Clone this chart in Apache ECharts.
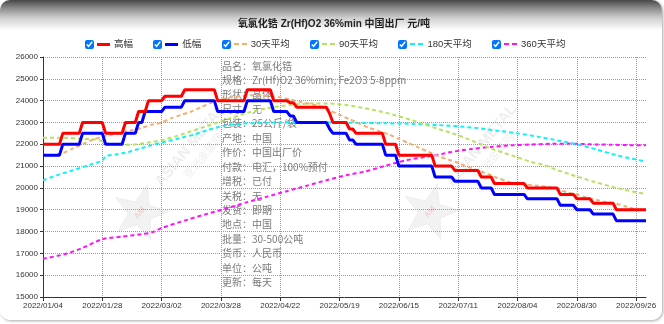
<!DOCTYPE html>
<html>
<head>
<meta charset="utf-8">
<script src="https://cdn.jsdelivr.net/npm/echarts/dist/echarts.min.js"></script>
<style>
html,body{margin:0;padding:0;width:664px;height:324px;overflow:hidden;background:#fff;}
#panel{position:absolute;left:0;top:0;width:662px;height:320px;border-radius:10px;box-shadow:1px 1px 3px rgba(0,0,0,0.35);
  background:linear-gradient(to bottom,#474747 0px,#8a8a8a 8px,#cfcfcf 18px,#ffffff 30px);}
#title{position:absolute;left:0;top:16px;width:668px;text-align:center;font:bold 10px "Liberation Sans","Noto Sans CJK SC",sans-serif;color:#222;line-height:16px;}
#legend{position:absolute;left:85px;top:37px;height:14px;display:flex;align-items:center;gap:20.3px;}
.it{display:flex;align-items:center;font:9.5px "Liberation Sans","Noto Sans CJK SC",sans-serif;color:#333;line-height:14px;cursor:pointer;}
.it input{width:9px;height:9px;margin:0 3px 0 0;}
.ln{display:inline-block;width:13px;height:3px;margin-right:4px;}
.ds{height:2px;}
#chart{position:absolute;left:0;top:0;width:664px;height:324px;}
</style>
</head>
<body>
<div id="panel"></div>
<div id="chart"></div>
<div id="title">氧氯化锆 Zr(Hf)O2 36%min 中国出厂 元/吨</div>
<div id="legend"></div>
<script>
// ---------- data ----------
const categories = [
"2022/01/04","2022/01/05","2022/01/06","2022/01/07","2022/01/10","2022/01/11","2022/01/12","2022/01/13","2022/01/14","2022/01/17","2022/01/18","2022/01/19","2022/01/20","2022/01/21","2022/01/24","2022/01/25","2022/01/26","2022/01/27","2022/01/28",
"2022/02/07","2022/02/08","2022/02/09","2022/02/10","2022/02/11","2022/02/14","2022/02/15","2022/02/16","2022/02/17","2022/02/18","2022/02/21","2022/02/22","2022/02/23","2022/02/24","2022/02/25","2022/02/28",
"2022/03/01","2022/03/02","2022/03/03","2022/03/04","2022/03/07","2022/03/08","2022/03/09","2022/03/10","2022/03/11","2022/03/14","2022/03/15","2022/03/16","2022/03/17","2022/03/18","2022/03/21","2022/03/22","2022/03/23","2022/03/24","2022/03/25","2022/03/28","2022/03/29","2022/03/30","2022/03/31",
"2022/04/01","2022/04/02","2022/04/06","2022/04/07","2022/04/08","2022/04/11","2022/04/12","2022/04/13","2022/04/14","2022/04/15","2022/04/18","2022/04/19","2022/04/20","2022/04/21","2022/04/22","2022/04/24","2022/04/25","2022/04/26","2022/04/27","2022/04/28","2022/04/29",
"2022/05/05","2022/05/06","2022/05/07","2022/05/09","2022/05/10","2022/05/11","2022/05/12","2022/05/13","2022/05/16","2022/05/17","2022/05/18","2022/05/19","2022/05/20","2022/05/23","2022/05/24","2022/05/25","2022/05/26","2022/05/27","2022/05/30","2022/05/31",
"2022/06/01","2022/06/02","2022/06/06","2022/06/07","2022/06/08","2022/06/09","2022/06/10","2022/06/13","2022/06/14","2022/06/15","2022/06/16","2022/06/17","2022/06/20","2022/06/21","2022/06/22","2022/06/23","2022/06/24","2022/06/27","2022/06/28","2022/06/29","2022/06/30",
"2022/07/01","2022/07/04","2022/07/05","2022/07/06","2022/07/07","2022/07/08","2022/07/11","2022/07/12","2022/07/13","2022/07/14","2022/07/15","2022/07/18","2022/07/19","2022/07/20","2022/07/21","2022/07/22","2022/07/25","2022/07/26","2022/07/27","2022/07/28","2022/07/29",
"2022/08/01","2022/08/02","2022/08/03","2022/08/04","2022/08/05","2022/08/08","2022/08/09","2022/08/10","2022/08/11","2022/08/12","2022/08/15","2022/08/16","2022/08/17","2022/08/18","2022/08/19","2022/08/22","2022/08/23","2022/08/24","2022/08/25","2022/08/26","2022/08/29","2022/08/30","2022/08/31",
"2022/09/01","2022/09/02","2022/09/05","2022/09/06","2022/09/07","2022/09/08","2022/09/09","2022/09/13","2022/09/14","2022/09/15","2022/09/16","2022/09/19","2022/09/20","2022/09/21","2022/09/22","2022/09/23","2022/09/26","2022/09/27","2022/09/28","2022/09/29"
];

const highPrice = [
22000,22000,22000,22000,22000,22000,
22500,22500,22500,22500,22500,22500,
23000,23000,23000,23000,23000,23000,23000,
22500,22500,22500,22500,22500,22500,
23000,23000,23000,23000,
23500,23500,23500,
24000,24000,24000,24000,24000,
24200,24200,24200,24200,24200,24200,
24500,24500,24500,24500,24500,24500,24500,24500,24500,24500,
24000,24000,24000,24000,24000,24000,24000,24000,24000,
24500,24500,24500,24500,24500,24500,24500,24500,
24000,24000,24000,24000,24000,
23900,23900,
23700,23700,23700,23700,23700,23700,23700,23700,23700,23700,
23400,
23000,23000,23000,23000,23000,
22700,22700,
22500,22500,22500,22500,22500,22500,22500,22500,22500,
22000,22000,22000,22000,
21500,21500,21500,21500,21500,21500,21500,21500,21500,21500,21500,
21000,21000,21000,21000,21000,21000,
20800,20800,20800,20800,20800,20800,20800,20800,
20500,20500,20500,20500,
20200,20200,20200,20200,20200,20200,20200,20200,20200,20200,
20000,20000,20000,20000,20000,20000,20000,20000,20000,20000,
19700,19700,19700,19700,19700,
19500,19500,19500,19500,19500,
19300,19300,19300,19300,19300,19300,19300,
19000,19000,19000,19000,19000,19000,19000,19000,19000,19000
];

const lowPrice = [
21500,21500,21500,21500,21500,21500,
22000,22000,22000,22000,22000,22000,
22500,22500,22500,22500,22500,22500,22500,
22000,22000,22000,22000,22000,22000,
22500,22500,22500,22500,
23000,23000,
23500,23500,23500,23500,23500,23500,
23700,23700,23700,23700,23700,23700,
24000,24000,24000,24000,24000,24000,24000,24000,24000,24000,
23500,23500,23500,23500,23500,23500,23500,23500,23500,
24000,24000,24000,24000,24000,24000,24000,24000,
23500,23500,23500,23500,23500,
23300,23300,
23000,23000,23000,23000,23000,23000,23000,23000,23000,23000,
22700,
22500,22500,22500,22500,22500,
22200,22200,
22000,22000,22000,22000,22000,22000,22000,22000,22000,
21500,21500,21500,21500,
21000,21000,21000,21000,21000,21000,21000,21000,21000,21000,21000,
20500,20500,20500,20500,20500,20500,
20300,20300,20300,20300,20300,20300,20300,20300,
20000,20000,20000,20000,
19700,19700,19700,19700,19700,19700,19700,19700,19700,19700,
19500,19500,19500,19500,19500,19500,19500,19500,19500,19500,
19200,19200,19200,19200,19200,
19000,19000,19000,19000,19000,
18800,18800,18800,18800,18800,18800,18800,
18500,18500,18500,18500,18500,18500,18500,18500,18500,18500
];

// moving averages: [category index, value]
const avg30 = [[0,21500],[3,21500],[6,21600],[9,21800],[12,22000],[15,22200],[18,22350],[21,22450],[24,22550],[27,22650],[30,22750],[33,22900],[36,23000],[39,23200],[42,23350],[45,23500],[48,23700],[51,23900],[54,24050],[57,24150],[60,24200],[63,24250],[66,24250],[69,24200],[72,24150],[75,24050],[78,23950],[81,23850],[84,23750],[87,23550],[90,23350],[93,23150],[96,22950],[99,22750],[102,22600],[105,22450],[108,22250],[111,22050],[114,21850],[117,21650],[120,21450],[123,21300],[126,21150],[130,20900],[134,20700],[138,20450],[141,20300],[144,20200],[147,20150],[150,20100],[153,20050],[156,19950],[159,19800],[162,19700],[165,19550],[168,19450],[171,19350],[174,19280],[177,19150],[180,19020],[183,19000]];
const avg90 = [[0,22300],[6,22300],[12,22250],[17,22200],[20,22000],[24,21980],[28,21990],[32,22080],[36,22180],[40,22350],[44,22550],[48,22750],[52,22950],[56,23150],[60,23350],[64,23520],[68,23650],[72,23750],[76,23820],[80,23860],[84,23870],[88,23860],[92,23800],[96,23700],[100,23580],[104,23450],[108,23280],[112,23100],[116,22900],[120,22700],[124,22520],[128,22300],[132,22050],[136,21800],[140,21600],[144,21400],[148,21200],[152,21050],[156,20820],[160,20620],[164,20430],[168,20250],[172,20080],[176,19930],[180,19800],[183,19720]];
const avg180 = [[0,20350],[5,20620],[10,20850],[15,21100],[18,21250],[19,21450],[22,21530],[26,21650],[30,21830],[34,22000],[38,22150],[42,22300],[46,22450],[50,22650],[54,22820],[58,22920],[62,22960],[66,22980],[72,23000],[80,23020],[88,23000],[96,22980],[104,22960],[112,22940],[120,22880],[126,22820],[132,22740],[138,22620],[144,22500],[150,22350],[156,22180],[162,22000],[168,21760],[174,21500],[180,21300],[183,21200]];
const avg360 = [[0,16750],[7,16980],[12,17250],[18,17650],[24,17770],[30,17880],[33,17960],[36,18160],[44,18550],[50,18820],[55,19030],[62,19350],[68,19600],[74,19850],[80,20100],[86,20350],[92,20580],[98,20760],[104,21020],[110,21260],[116,21420],[120,21520],[124,21650],[130,21780],[136,21880],[142,21950],[148,21990],[154,22020],[160,22030],[166,22000],[172,21980],[178,21960],[183,21950]];

const yTicks = {min:15000, max:26000, step:1000};

const infoLines = [
"品名：氧氯化锆","规格：Zr(Hf)O2 36%min, Fe2O3 5-8ppm","形状：晶体","尺寸：无","包装：25公斤/袋","产地：中国",
"作价：中国出厂价","付款：电汇，100%预付","增税：已付","关税：无","发货：即期","地点：中国",
"批量：30-500公吨","货币：人民币","单位：公吨","更新：每天"
];

const seriesDefs = [
  {name:"高幅", color:"#ff0000", dashed:false},
  {name:"低幅", color:"#0000ff", dashed:false},
  {name:"30天平均", color:"#f4ae72", dashed:true},
  {name:"90天平均", color:"#b6e25e", dashed:true},
  {name:"180天平均", color:"#10f0f8", dashed:true},
  {name:"360天平均", color:"#ff10ff", dashed:true}
];

// ---------- legend (html, checkbox style) ----------
const legendEl = document.getElementById('legend');
seriesDefs.forEach(d => {
  const lab = document.createElement('label');
  lab.className = 'it';
  const cb = document.createElement('input');
  cb.type = 'checkbox'; cb.checked = true;
  const ln = document.createElement('span');
  ln.className = 'ln' + (d.dashed ? ' ds' : '');
  ln.style.background = d.dashed
    ? 'repeating-linear-gradient(to right,' + d.color + ' 0 5px,transparent 5px 8px)'
    : d.color;
  const tx = document.createElement('span');
  tx.textContent = d.name;
  lab.appendChild(cb); lab.appendChild(ln); lab.appendChild(tx);
  cb.addEventListener('change', () => chart.dispatchAction({type:'legendToggleSelect', name:d.name}));
  legendEl.appendChild(lab);
});

// ---------- watermark helpers ----------
function starPoints(cx, cy, R, r, rot) {
  const pts = [];
  for (let i = 0; i < 10; i++) {
    const a = rot + i * Math.PI / 5 - Math.PI / 2;
    const rad = i % 2 === 0 ? R : r;
    pts.push([cx + rad * Math.cos(a), cy + rad * Math.sin(a)]);
  }
  return pts;
}
function watermark(sx, sy, tx, ty) {
  return [
    {type:'polygon', z:1, silent:true, shape:{points:starPoints(sx, sy, 29, 12, 0.25)},
     style:{fill:'rgba(160,160,160,0.14)', stroke:'rgba(200,200,200,0.22)', lineWidth:1}},
    {type:'text', z:1, silent:true, x:sx, y:sy, rotation:0.9,
     style:{text:'AM', fontSize:8, fontWeight:'bold', fill:'rgba(230,80,80,0.22)', align:'center', verticalAlign:'middle'}},
    {type:'group', x:tx, y:ty, rotation:0.88, silent:true, children:[
      {type:'text', z:1, x:0, y:-7, style:{text:'ASIAN METAL', fontSize:15, fontWeight:'bold', fontFamily:'Liberation Sans', fill:'rgba(170,170,170,0.2)', align:'center', verticalAlign:'middle'}},
      {type:'text', z:1, x:0, y:9, style:{text:'亚洲金属网', fontSize:11, fontFamily:'Noto Sans CJK SC', fill:'rgba(170,170,170,0.2)', align:'center', verticalAlign:'middle'}}
    ]}
  ];
}

// ---------- chart ----------
const chart = echarts.init(document.getElementById('chart'), null, {renderer:'canvas'});

function lineSeries(def, data) {
  return {
    name: def.name, type:'line', data: data, symbol:'none', animation:false,
    smooth: def.dashed ? 0.25 : false,
    lineStyle: def.dashed ? {color:def.color, width:2, type:[4,3]} : {color:def.color, width:3},
    itemStyle:{color:def.color},
    z: def.dashed ? 2 : 3
  };
}

const option = {
  animation:false,
  legend:{show:false, data: seriesDefs.map(d => d.name)},
  grid:{left:43, right:18, top:57, bottom:27},
  xAxis:{
    type:'category', data:categories, boundaryGap:false,
    axisLine:{lineStyle:{color:'#333', width:1}},
    axisTick:{show:true, interval:17, length:4, lineStyle:{color:'#333'}},
    axisLabel:{interval:17, fontSize:8, color:'#333', margin:5, fontFamily:'Liberation Sans'},
    splitLine:{show:true, interval:17, lineStyle:{color:'#9a9a9a', type:'dotted', width:1}}
  },
  yAxis:{
    type:'value', min:yTicks.min, max:yTicks.max, interval:yTicks.step,
    axisLine:{show:true, lineStyle:{color:'#333', width:1}},
    axisTick:{show:true, length:3, lineStyle:{color:'#333'}},
    axisLabel:{fontSize:8, color:'#333', margin:5, fontFamily:'Liberation Sans', formatter: v => String(v)},
    splitLine:{show:true, lineStyle:{color:'#9a9a9a', type:'dotted', width:1}}
  },
  graphic:[
    ...watermark(140, 213, 196, 150),
    ...watermark(430, 212, 487, 150),
    {type:'text', left:222, top:58.5, z:1, silent:true,
     style:{text: infoLines.join('\n'), fontSize:10, fontFamily:'Noto Sans CJK SC', fill:'#7a7a7a', lineHeight:14.45}}
  ],
  series:[
    lineSeries(seriesDefs[5], avg360),
    lineSeries(seriesDefs[4], avg180),
    lineSeries(seriesDefs[3], avg90),
    lineSeries(seriesDefs[2], avg30),
    lineSeries(seriesDefs[1], lowPrice),
    lineSeries(seriesDefs[0], highPrice)
  ]
};
chart.setOption(option);
</script>
</body>
</html>
